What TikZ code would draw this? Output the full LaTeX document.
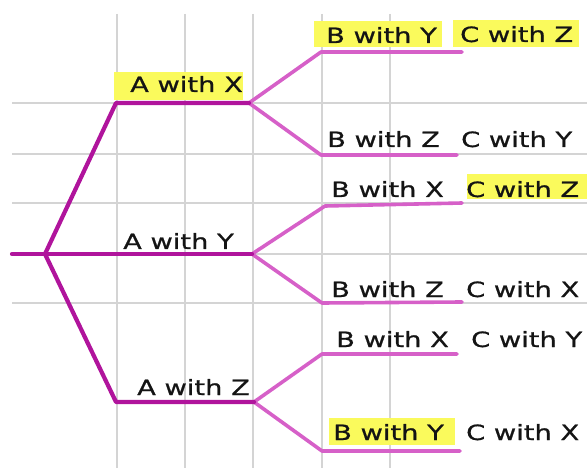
\documentclass[tikz,border=0pt]{standalone}
\usepackage{fontspec}
\newfontfamily\lblfont[FakeStretch=1.3,FakeBold=0.8]{DejaVu Sans}
\definecolor{amag}{RGB}{176,20,156}
\definecolor{bpink}{RGB}{214,96,200}
\definecolor{hlyellow}{RGB}{250,250,92}
\definecolor{gridgray}{RGB}{212,212,212}
\definecolor{inkc}{RGB}{20,20,20}
\begin{document}
\begin{tikzpicture}[x=1pt,y=-1pt,
  gridline/.style={draw=gridgray,line width=1.2pt},
  abranch/.style={draw=amag,line width=4.2pt,line join=round,line cap=round},
  bbranch/.style={draw=bpink,line width=3.6pt,line join=round,line cap=round},
  lbl/.style={anchor=base west,inner sep=0pt,text=inkc,font=\lblfont\fontsize{21}{21}\selectfont},
  hl/.style={fill=hlyellow}]
\useasboundingbox (0,0) rectangle (587,468);
% grid
\foreach \y in {103,154,203,254,303} \draw[gridline] (12,\y) -- (587,\y);
\foreach \x in {117,185,253,322,390} \draw[gridline] (\x,14) -- (\x,468);
% highlights
\fill[hl] (114,72) rectangle (243,100);
\fill[hl] (314,21) rectangle (442,47);
\fill[hl] (453,20) rectangle (579,47);
\fill[hl] (467,174) rectangle (587,199);
\fill[hl] (329,418) rectangle (455,445);
% junction coordinates
\coordinate (start) at (12,254);
\coordinate (root) at (45,254);
\coordinate (ax1) at (116,103); \coordinate (ax2) at (249,103);
\coordinate (ay2) at (252,254);
\coordinate (az1) at (116,402); \coordinate (az2) at (254,402);
\coordinate (b1a) at (321,52);  \coordinate (b1b) at (462,52);
\coordinate (b2a) at (321,155); \coordinate (b2b) at (457,155);
\coordinate (b3a) at (325,206); \coordinate (b3b) at (462,203);
\coordinate (b4a) at (322,303); \coordinate (b4b) at (462,302);
\coordinate (b5a) at (322,354); \coordinate (b5b) at (457,354);
\coordinate (b6a) at (322,451); \coordinate (b6b) at (460,451);
% second level branches
\draw[bbranch] (ax2) -- (b1a) -- (b1b);
\draw[bbranch] (ax2) -- (b2a) -- (b2b);
\draw[bbranch] (ay2) -- (b3a) -- (b3b);
\draw[bbranch] (ay2) -- (b4a) -- (b4b);
\draw[bbranch] (az2) -- (b5a) -- (b5b);
\draw[bbranch] (az2) -- (b6a) -- (b6b);
% first level branches
\draw[abranch] (root) -- (ax1) -- (ax2);
\draw[abranch] (start) -- (root) -- (ay2);
\draw[abranch] (root) -- (az1) -- (az2);
% labels
\node[lbl] (lax) at (130,92) {A with X};
\node[lbl] (lay) at (123,249) {A with Y};
\node[lbl] (laz) at (137,395) {A with Z};
\node[lbl] (r1b) at (326,43) {B with Y};
\node[lbl] (r1c) at (460,42) {C with Z};
\node[lbl] (r2b) at (327,147) {B with Z};
\node[lbl] (r2c) at (461,147) {C with Y};
\node[lbl] (r3b) at (331,197) {B with X};
\node[lbl] (r3c) at (466,197) {C with Z};
\node[lbl] (r4b) at (331,297) {B with Z};
\node[lbl] (r4c) at (466,297) {C with X};
\node[lbl] (r5b) at (336,347) {B with X};
\node[lbl] (r5c) at (471,347) {C with Y};
\node[lbl] (r6b) at (333,440) {B with Y};
\node[lbl] (r6c) at (466,440) {C with X};
\end{tikzpicture}
\end{document}
